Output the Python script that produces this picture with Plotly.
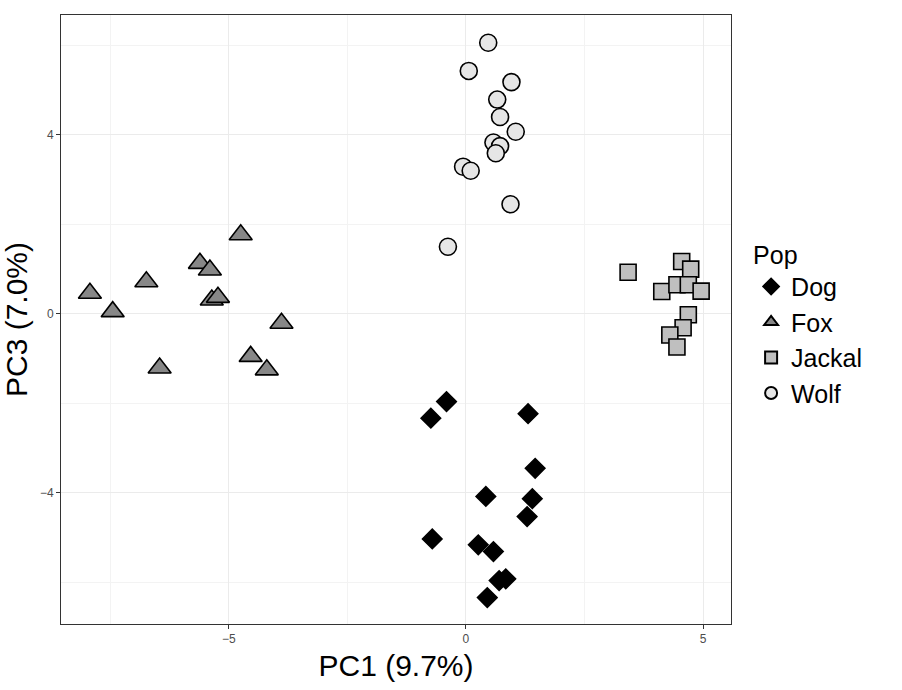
import plotly.graph_objects as go

# Data (PC1, PC3)
dog_pc1 = [-0.41, -0.74, 1.31, 1.46, 0.42, 1.40, 1.29, -0.71, 0.26, 0.58, 0.70, 0.84, 0.45]
dog_pc3 = [-1.96, -2.33, -2.23, -3.45, -4.08, -4.13, -4.53, -5.03, -5.16, -5.31, -5.96, -5.92, -6.34]

fox_pc1 = [-7.93, -7.45, -6.74, -6.46, -5.61, -5.40, -5.36, -5.23, -4.75, -3.89, -4.54, -4.20]
fox_pc3 = [0.46, 0.05, 0.72, -1.21, 1.13, 0.98, 0.31, 0.37, 1.77, -0.21, -0.95, -1.25]

jackal_pc1 = [3.42, 4.55, 4.74, 4.13, 4.45, 4.69, 4.96, 4.69, 4.58, 4.30, 4.45]
jackal_pc3 = [0.93, 1.17, 1.00, 0.50, 0.65, 0.65, 0.51, -0.02, -0.31, -0.47, -0.74]

wolf_pc1 = [0.47, 0.06, 0.96, 0.66, 0.72, 1.05, 0.58, 0.72, 0.63, -0.06, 0.10, 0.94, -0.38]
wolf_pc3 = [6.06, 5.43, 5.18, 4.79, 4.40, 4.07, 3.83, 3.75, 3.59, 3.29, 3.20, 2.45, 1.50]

groups = ["Dog", "Fox", "Jackal", "Wolf"]
xs = [dog_pc1, fox_pc1, jackal_pc1, wolf_pc1]
ys = [dog_pc3, fox_pc3, jackal_pc3, wolf_pc3]
symbols = ["diamond", "triangle-up", "square", "circle"]
fills = ["#000000", "#878787", "#bfbfbf", "#e6e6e6"]
sizes = [15, 20, 16, 17]

x_ticks = [-5, 0, 5]
y_ticks = [-4, 0, 4]
x_minor = [-7.5, -2.5, 2.5]
y_minor = [-6, -2, 2, 6]

fig = go.Figure()
for g, x, y, s, c, sz in zip(groups, xs, ys, symbols, fills, sizes):
    fig.add_trace(go.Scatter(
        x=x, y=y, mode="markers", name=g,
        marker=dict(symbol=s, size=sz, color=c,
                    line=dict(color="#000000", width=1.6)),
    ))

font = "Liberation Sans, Arial, sans-serif"
axis_common = dict(
    showgrid=True, gridcolor="#ebebeb", gridwidth=1.2,
    zeroline=False, showline=True, linecolor="#333333", linewidth=1,
    mirror=True, ticks="outside", ticklen=4, tickcolor="#333333",
    tickfont=dict(family=font, size=12, color="#4d4d4d"),
    minor=dict(showgrid=True, gridcolor="#f3f3f3", gridwidth=1),
)

fig.update_layout(
    width=902, height=690,
    paper_bgcolor="white", plot_bgcolor="white",
    margin=dict(l=61, r=171, t=15, b=66),
    font=dict(family=font, color="#000000"),
    xaxis=dict(range=[-8.54, 5.59], tickvals=x_ticks,
               title=dict(text="PC1 (9.7%)", font=dict(size=30), standoff=9),
               **axis_common),
    yaxis=dict(range=[-6.93, 6.68], tickvals=y_ticks,
               title=dict(text="PC3 (7.0%)", font=dict(size=30), standoff=3),
               **axis_common),
    legend=dict(
        title=dict(text="Pop", font=dict(size=25)),
        font=dict(size=25),
        x=1.03, xanchor="left", y=0.645, yanchor="top",
        tracegroupgap=0, itemsizing="constant",
    ),
    showlegend=True,
)
fig.update_xaxes(minor=dict(tickvals=x_minor))
fig.update_yaxes(minor=dict(tickvals=y_minor))

fig.write_html("out.html")
